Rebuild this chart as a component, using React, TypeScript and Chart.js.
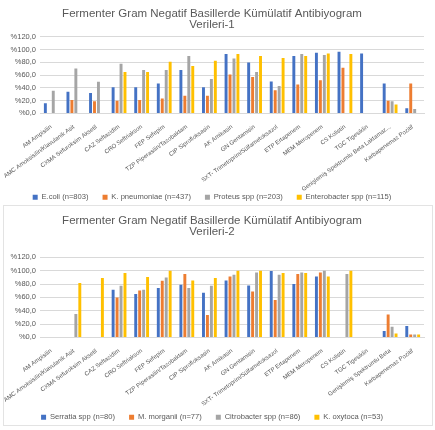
import React, { useEffect, useRef } from 'react';
import { Chart, registerables } from 'chart.js';
Chart.register(...registerables);

const categories1 = [
  'AM Ampisilin',
  'AMC Amoksisilin/Klavulanik Asit',
  'CXMA Sefuroksim Aksetil',
  'CAZ Seftazidim',
  'CRO Seftriakson',
  'FEP Sefepim',
  'TZP Piperasilin/Tazobaktam',
  'CIP Siprofloksasin',
  'AK Amikasin',
  'GN Gentamisin',
  'SXT- Trimetoprim/Sülfametoksazol',
  'ETP Ertapenem',
  'MEM Meropenem',
  'CS Kolistin',
  'TGC Tigesiklin',
  'Genişlemiş Spektrumlu Beta Laktamaz...',
  'Karbapenemaz Pozitif',
];
const categories2 = [
  'AM Ampisilin',
  'AMC Amoksisilin/Klavulanik Asit',
  'CXMA Sefuroksim Aksetil',
  'CAZ Seftazidim',
  'CRO Seftriakson',
  'FEP Sefepim',
  'TZP Piperasilin/Tazobaktam',
  'CIP Siprofloksasin',
  'AK Amikasin',
  'GN Gentamisin',
  'SXT- Trimetoprim/Sülfametoksazol',
  'ETP Ertapenem',
  'MEM Meropenem',
  'CS Kolistin',
  'TGC Tigesiklin',
  'Genişlemiş Spektrumlu Beta',
  'Karbapenemaz Pozitif',
];

const title1 = ['Fermenter Gram Negatif Basillerde Kümülatif Antibiyogram', 'Verileri-1'];
const title2 = ['Fermenter Gram Negatif Basillerde Kümülatif Antibiyogram', 'Verileri-2'];

const seriesNames1 = ['E.coli (n=803)', 'K. pneumoniae (n=437)', 'Proteus spp (n=203)', 'Enterobacter spp (n=115)'];
const seriesNames2 = ['Serratia spp (n=80)', 'M. morganii (n=77)', 'Citrobacter spp (n=86)', 'K. oxytoca (n=53)'];

const ecoli = [16, 34, 32, 41, 41, 47, 68, 41, 93, 80, 50, 90, 95, 96.5, 94, 47, 8];
const kpneumoniae = [null, 21, 19, 20, 21, 23.5, 27.5, 27.5, 61, 57, 36.5, 45.5, 52, 71.5, null, 20, 47];
const proteus = [35.5, 70.5, 49.5, 78, 68, 68, 90, 54, 86, 65, 43, 93, 91.5, null, null, 19, 7];
const enterobacter = [null, null, null, 65, 65, 81, 74.5, 82.5, 93, 90, 87, 90, 94, 93, null, 14, null];

const serratia = [null, null, null, 71.5, 65, 74, 79, 67, 85.5, 78, 99.5, 80, 91.5, null, null, 9.5, 17];
const morganii = [null, null, null, 60, 70.5, 85, 95, 33.5, 91.5, 69, 56, 95, 97.5, null, null, 34.5, 4.5];
const citrobacter = [null, 35, null, 77.5, 71.5, 90, 74, 77.5, 94, 97.5, 94, 97.5, 100, 95, null, 16, 4.5];
const oxytoca = [null, 81.5, 89, 96.5, 90.5, 100, 85.5, 89, 100, 100, 96.5, 96.5, 91.5, 100, null, 6, 4.5];

const yTicks = [0, 20, 40, 60, 80, 100, 120];

const colors = ['#4472C4', '#ED7D31', '#A5A5A5', '#FFC000'];
const FONT = 'Liberation Sans';
const TEXT = '#595959';

function buildConfig(labels: string[], names: string[], series: (number | null)[][], title: string[], titleBottom: number, xHeight: number): any {
  return {
    type: 'bar',
    data: {
      labels,
      datasets: series.map((d, i) => ({
        label: names[i],
        data: d,
        backgroundColor: colors[i],
        borderWidth: 0,
        categoryPercentage: 0.7,
        barPercentage: 0.74,
      })),
    },
    options: {
      responsive: false,
      animation: false,
      layout: { padding: { left: 0, right: 9, top: 0, bottom: 0 } },
      plugins: {
        title: {
          display: true,
          text: title,
          color: TEXT,
          font: { family: FONT, size: 11.5, weight: 'normal', lineHeight: 0.93 },
          padding: { top: 8.5, bottom: titleBottom },
        },
        legend: {
          position: 'bottom',
          labels: {
            color: TEXT,
            font: { family: FONT, size: 7.6 },
            boxWidth: 5,
            boxHeight: 5,
            padding: 14,
          },
        },
        tooltip: { enabled: false },
      },
      scales: {
        x: {
          grid: { display: false },
          border: { display: true, color: '#D9D9D9' },
          ticks: {
            color: TEXT,
            font: { family: FONT, size: 6 },
            maxRotation: 36,
            minRotation: 36,
            autoSkip: false,
            padding: 2,
          },
          afterFit: (s: any) => {
            s.height = xHeight;
            s._computeLabelArea = () => undefined;
          },
        },
        y: {
          min: 0,
          max: 120,
          afterBuildTicks: (s: any) => { s.ticks = yTicks.map((v) => ({ value: v })); },
          grid: { color: '#D9D9D9', drawTicks: false },
          border: { display: false },
          ticks: {
            color: TEXT,
            font: { family: FONT, size: 7.5 },
            padding: 4,
            callback: (v: any) => '%' + Number(v).toFixed(1).replace('.', ','),
          },
          afterFit: (s: any) => { s.width = 40; },
        },
      },
    },
  };
}

function ChartBox(props: { top: number; height: number; config: any }) {
  const ref = useRef<HTMLCanvasElement>(null);
  useEffect(() => {
    const c = new Chart(ref.current as HTMLCanvasElement, props.config);
    return () => c.destroy();
  }, []);
  return (
    <canvas
      ref={ref}
      width={433}
      height={props.height}
      style={{ position: 'absolute', left: 0, top: props.top, width: 433, height: props.height }}
    />
  );
}

export default function App() {
  const cfg1 = buildConfig(categories1, seriesNames1, [ecoli, kpneumoniae, proteus, enterobacter], title1, 7, 66);
  const cfg2 = buildConfig(categories2, seriesNames2, [serratia, morganii, citrobacter, oxytoca], title2, 20.5, 62);
  return (
    <div style={{ position: 'absolute', left: 0, top: 0, width: 435, height: 430, overflow: 'hidden', background: '#fff' }}>
      <div style={{ position: 'absolute', left: 3, top: 205, width: 430, height: 221, border: '1px solid #E3E3E3', boxSizing: 'border-box' }} />
      <ChartBox top={0} height={211} config={cfg1} />
      <ChartBox top={207} height={224} config={cfg2} />
    </div>
  );
}
